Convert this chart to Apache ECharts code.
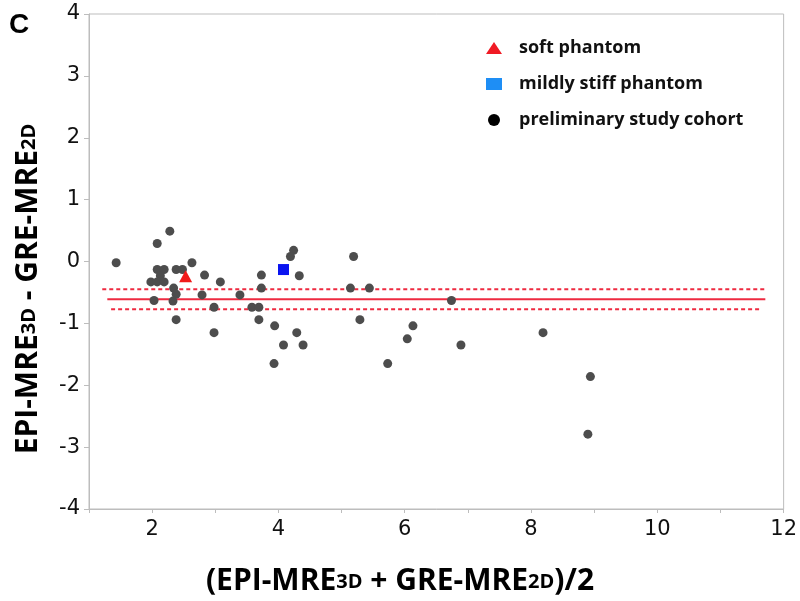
<!DOCTYPE html>
<html>
<head>
<meta charset="utf-8">
<script src="https://cdn.jsdelivr.net/npm/echarts@6/dist/echarts.min.js"></script>
<style>html,body{margin:0;padding:0;background:#fff}#c{width:800px;height:601px}</style>
</head>
<body>
<div id="c"></div>
<script>
// ---- data ----
const cohortX = [1.43,2.28,2.08,2.63,2.08,2.19,2.38,2.48,2.13,1.98,2.08,2.19,2.83,3.08,2.34,2.38,2.03,2.33,2.79,2.98,2.38,2.98,3.39,3.73,3.73,3.58,3.69,3.69,3.94,4.08,4.24,4.19,4.33,5.19,5.14,5.44,5.29,6.74,4.29,4.39,6.13,6.04,6.89,8.19,8.94,8.90,3.93,5.73];
const cohortY = [-0.02,0.49,0.29,-0.02,-0.13,-0.13,-0.13,-0.13,-0.23,-0.33,-0.33,-0.33,-0.22,-0.33,-0.43,-0.53,-0.63,-0.64,-0.54,-0.74,-0.94,-1.15,-0.54,-0.22,-0.43,-0.74,-0.74,-0.94,-1.04,-1.35,0.18,0.08,-0.23,0.08,-0.43,-0.43,-0.94,-0.63,-1.15,-1.35,-1.04,-1.25,-1.35,-1.15,-1.86,-2.79,-1.65,-1.65];
const softX = [2.53], softY = [-0.24];
const stiffX = [4.08], stiffY = [-0.13];
const meanX = [1.29, 11.71], meanY = [-0.61, -0.61];
const upperX = [1.21, 11.74], upperY = [-0.45, -0.45];
const lowerX = [1.35, 11.63], lowerY = [-0.77, -0.77];
const xTickLabels = [2,4,6,8,10,12];
const yTickLabels = [-4,-3,-2,-1,0,1,2,3,4];
const seriesNames = ['soft phantom','mildly stiff phantom','preliminary study cohort'];

const zip = (a,b) => a.map((v,i)=>[v,b[i]]);
const red = '#ee2a40';
const nameRich = {
  b:{fontFamily:'Open Sans', fontWeight:'bold', fontSize:30, color:'#111', lineHeight:38, verticalAlign:'bottom'},
  s:{fontFamily:'Open Sans', fontWeight:'bold', fontSize:20, color:'#111', lineHeight:38, verticalAlign:'bottom', padding:[0,0,4,0]}
};
const chart = echarts.init(document.getElementById('c'));
chart.setOption({
  animation:false,
  backgroundColor:'#fff',
  title:{text:'C', left:4, top:6, textStyle:{fontFamily:'Liberation Sans', fontWeight:'bold', fontSize:28, color:'#000'}},
  grid:{left:89, right:9, top:14, bottom:92, show:true, borderColor:'#bdbdbd', borderWidth:1},
  legend:{
    orient:'vertical', left:481, top:34, itemWidth:16, itemHeight:12, itemGap:18,
    textStyle:{fontFamily:'Open Sans', fontWeight:'bold', fontSize:18, color:'#111', padding:[0,0,0,12]},
    data:[
      {name:seriesNames[0], icon:'triangle', itemStyle:{color:'#f01a24', opacity:1}},
      {name:seriesNames[1], icon:'rect', itemStyle:{color:'#1e8ef5', opacity:1}},
      {name:seriesNames[2], icon:'circle', itemStyle:{color:'#000', opacity:1}}
    ]
  },
  xAxis:{
    type:'value', min:1, max:12, interval:1,
    axisLine:{show:true, onZero:false, lineStyle:{color:'#bdbdbd'}},
    axisTick:{show:true, length:4, lineStyle:{color:'#bdbdbd'}},
    splitLine:{show:false},
    axisLabel:{margin:10, fontFamily:'DejaVu Sans', fontSize:21, color:'#111',
      formatter:v => xTickLabels.indexOf(v) >= 0 ? String(v) : ''}
  },
  yAxis:{
    type:'value', min:-4, max:4, interval:1,
    axisLine:{show:true, onZero:false, lineStyle:{color:'#bdbdbd'}},
    axisTick:{show:true, length:5, lineStyle:{color:'#bdbdbd'}},
    splitLine:{show:false},
    axisLabel:{margin:9, fontFamily:'DejaVu Sans', fontSize:21, color:'#111',
      formatter:v => yTickLabels.indexOf(v) >= 0 ? String(v) : ''}
  },
  graphic:[
    {type:'text', x:400, y:577, style:{
      text:'{b|(EPI-MRE}{s|3D}{b| + GRE-MRE}{s|2D}{b|)/2}',
      align:'center', verticalAlign:'middle', rich:nameRich
    }},
    {type:'text', x:24, y:289, rotation:Math.PI/2, style:{
      text:'{b|EPI-MRE}{s|3D}{b| - GRE-MRE}{s|2D}',
      align:'center', verticalAlign:'middle', rich:nameRich
    }}
  ],
  series:[
    {name:'mean', type:'line', data:zip(meanX,meanY), symbol:'none', lineStyle:{color:red, width:2}, z:1},
    {name:'upper', type:'line', data:zip(upperX,upperY), symbol:'none', lineStyle:{color:red, width:2, type:[4,3]}, z:1},
    {name:'lower', type:'line', data:zip(lowerX,lowerY), symbol:'none', lineStyle:{color:red, width:2, type:[4,3]}, z:1},
    {name:seriesNames[2], type:'scatter', data:zip(cohortX,cohortY), symbol:'circle', symbolSize:9, itemStyle:{color:'#4d4d4d', opacity:1}, z:3},
    {name:seriesNames[0], type:'scatter', data:zip(softX,softY), symbol:'triangle', symbolSize:[13,12], itemStyle:{color:'#f01a1a', opacity:1}, z:4},
    {name:seriesNames[1], type:'scatter', data:zip(stiffX,stiffY), symbol:'rect', symbolSize:11, itemStyle:{color:'#0a14f0', opacity:1}, z:4}
  ]
});
</script>
</body>
</html>
